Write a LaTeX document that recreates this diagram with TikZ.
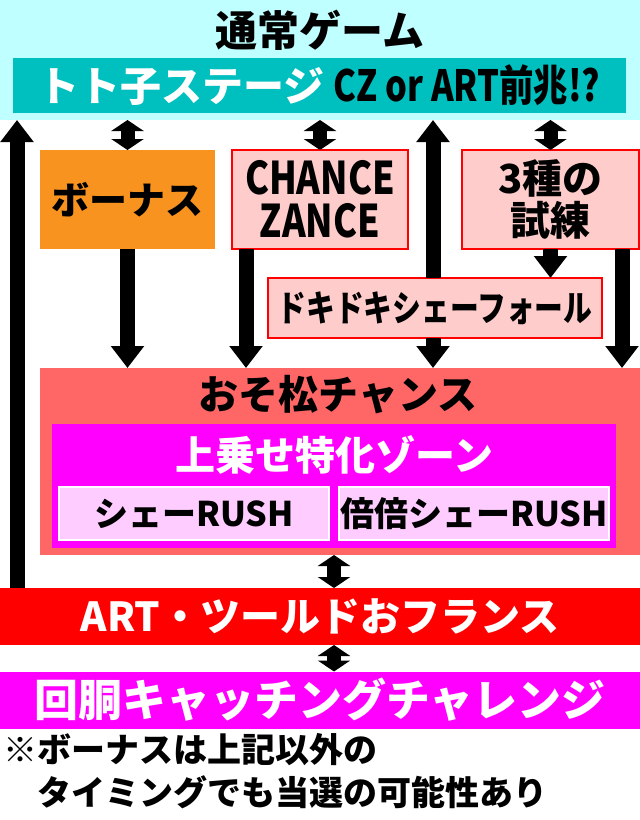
\documentclass[tikz,border=0pt]{standalone}
\usepackage{fontspec}
\setmainfont{Noto Sans CJK JP}[BoldFont={Noto Sans CJK JP Black}]
\newfontfamily\narrow{Noto Sans CJK JP}[BoldFont={Noto Sans CJK JP Black}, FakeStretch=0.8]
\usetikzlibrary{positioning,arrows.meta}
\definecolor{skyback}{HTML}{C0FFFF}
\definecolor{stageteal}{HTML}{00BFBF}
\definecolor{bonusorange}{HTML}{F7931E}
\definecolor{palepink}{HTML}{FFCCCC}
\definecolor{chancered}{HTML}{FF6666}
\definecolor{zonemagenta}{HTML}{FF00FF}
\definecolor{rushpink}{HTML}{FFCCFF}
\begin{document}
\begin{tikzpicture}[x=1pt, y=-1pt,
  nodes={inner sep=0pt, outer sep=0pt, font=\bfseries},
  pinkbox/.style={draw=red, line width=1.2pt, fill=palepink},
  rushbox/.style={draw=white, line width=2pt, fill=rushpink, minimum width=270pt, minimum height=53pt, font=\fontsize{34}{34}\bfseries},
  wide/.style={minimum width=640pt, minimum height=57pt},
  fat/.style={line width=15pt, -{Triangle[width=32pt,length=22pt]}},
  twoway/.style={line width=14pt, {Triangle[width=32pt,length=11pt]}-{Triangle[width=32pt,length=11pt]}}]
  \useasboundingbox (0,0) rectangle (640,820);

  \node[fill=skyback, minimum width=640pt, minimum height=120pt] (normal) at (320,60) {};
  \node[font=\fontsize{42}{42}\bfseries] (title) at (320,30) {通常ゲーム};
  \node[fill=stageteal, minimum width=613pt, minimum height=55pt, font=\fontsize{41}{41}\bfseries] (stage) at (319.5,85.5)
    {\textcolor{white}{トト子ステージ}\hspace{9pt}{\narrow\fontsize{43}{43}\selectfont CZ or ART前兆!?}};

  \node[fill=bonusorange, minimum width=175pt, minimum height=99pt, font=\fontsize{38}{38}\bfseries] (bonus) at (127.5,199.5) {ボーナス};
  \node[pinkbox, minimum width=176pt, minimum height=99pt, align=center, font=\narrow\fontsize{45}{43}\bfseries] (chance) at (320,199.5) {CHANCE\\ZANCE};
  \node[pinkbox, minimum width=177pt, minimum height=99pt, align=center, font=\fontsize{40}{42}\bfseries] (trial) at (550.5,199.5) {3種の\\試練};
  \node[pinkbox, minimum width=334pt, minimum height=60pt, font=\narrow\fontsize{36}{36}\bfseries] (doki) at (435,308) {ドキドキシェーフォール};

  \node[fill=chancered, minimum width=600pt, minimum height=187pt] (oso) at (340,461.5) {};
  \node[font=\fontsize{40}{40}\bfseries] (osotitle) at (338,395) {おそ松チャンス};
  \node[fill=zonemagenta, minimum width=564pt, minimum height=124pt] (zone) at (334,486) {};
  \node[text=white, font=\fontsize{40}{40}\bfseries] (zonetitle) at (334,455) {上乗せ特化ゾーン};
  \node[rushbox] (rush) at (194,513.5) {シェーRUSH};
  \node[rushbox] (wrush) at (474,513.5) {倍倍シェーRUSH};

  \node[wide, fill=red, text=white, font=\fontsize{40}{40}\bfseries] (art) at (320,616.5) {ART・ツールドおフランス};
  \node[wide, fill=zonemagenta, text=white, font=\fontsize{44}{44}\bfseries] (catch) at (320,700) {回胴キャッチングチャレンジ};
  \node[anchor=north west, align=left, font=\fontsize{34}{43}\bfseries] (note) at (4,733)
    {※ボーナスは上記以外の\\\phantom{※}タイミングでも当選の可能性あり};

  \coordinate (leftline) at (17,0);
  \coordinate (upline) at (433,0);
  \coordinate (chanceline) at (246,0);
  \coordinate (edgeline) at (622,0);

  \draw[twoway] (normal.south -| bonus.north) -- (bonus.north);
  \draw[twoway] (normal.south -| chance.north) -- (chance.north);
  \draw[twoway] (normal.south -| trial.north) -- (trial.north);
  \draw[fat] (art.north -| leftline) -- (normal.south -| leftline);
  \draw[fat] (doki.north -| upline) -- (normal.south -| upline);
  \draw[fat] (bonus.south) -- (oso.north -| bonus.south);
  \draw[fat] (chance.south -| chanceline) -- (oso.north -| chanceline);
  \draw[fat] (trial.south) -- (doki.north -| trial.south);
  \draw[fat] (trial.south -| edgeline) -- (oso.north -| edgeline);
  \draw[fat] (doki.south -| upline) -- (oso.north -| upline);
  \draw[twoway] (oso.south -| zone.south) -- (art.north -| zone.south);
  \draw[twoway] (art.south -| zone.south) -- (catch.north -| zone.south);
\end{tikzpicture}
\end{document}
